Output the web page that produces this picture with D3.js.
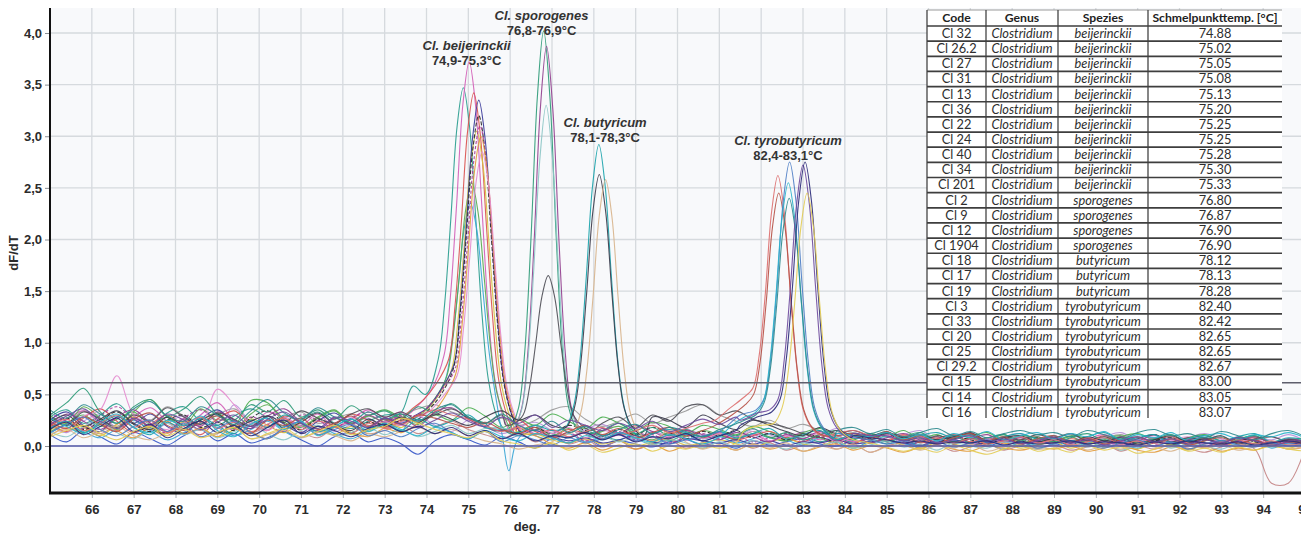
<!DOCTYPE html>
<html><head><meta charset="utf-8">
<script src="https://cdn.jsdelivr.net/npm/d3@7"></script>
<style>body{margin:0;background:#fff}svg{display:block}</style>
</head><body><svg id="chart" width="1301" height="534"></svg>
<script>
// ---------- DATA ----------
const xTicks = [66,67,68,69,70,71,72,73,74,75,76,77,78,79,80,81,82,83,84,85,86,87,88,89,90,91,92,93,94,95];
const yTicks = [0,0.5,1,1.5,2,2.5,3,3.5,4];
const thresholdValue = 0.613;

// table
const tableHeader = ["Code","Genus","Spezies","Schmelpunkttemp. [°C]"];
const tableCodes = ["Cl 32","Cl 26.2","Cl 27","Cl 31","Cl 13","Cl 36","Cl 22","Cl 24","Cl 40","Cl 34","Cl 201","Cl 2","Cl 9","Cl 12","Cl 1904","Cl 18","Cl 17","Cl 19","Cl 3","Cl 33","Cl 20","Cl 25","Cl 29.2","Cl 15","Cl 14","Cl 16"];
const tableGenus = tableCodes.map(() => "Clostridium");
const tableSpecies = ["beijerinckii","beijerinckii","beijerinckii","beijerinckii","beijerinckii","beijerinckii","beijerinckii","beijerinckii","beijerinckii","beijerinckii","beijerinckii","sporogenes","sporogenes","sporogenes","sporogenes","butyricum","butyricum","butyricum","tyrobutyricum","tyrobutyricum","tyrobutyricum","tyrobutyricum","tyrobutyricum","tyrobutyricum","tyrobutyricum","tyrobutyricum"];
const tableTemps = ["74.88","75.02","75.05","75.08","75.13","75.20","75.25","75.25","75.28","75.30","75.33","76.80","76.87","76.90","76.90","78.12","78.13","78.28","82.40","82.42","82.65","82.65","82.67","83.00","83.05","83.07"];

// annotations
const annNames = ["Cl. beijerinckii","Cl. sporogenes","Cl. butyricum","Cl. tyrobutyricum"];
const annRanges = ["74,9-75,3°C","76,8-76,9°C","78,1-78,3°C","82,4-83,1°C"];
const annTemp = [74.96, 76.75, 78.27, 82.64];
const annValue = [3.84, 4.13, 3.09, 2.92];

// curves: baseline values on a 0.4 °C grid from 65.0 to 95.0 (76 values), peak points as [temp, dF/dT]
const curveCodes = ["Cl 32","Cl 26.2","Cl 27","Cl 31","Cl 13","Cl 36","Cl 22","Cl 24","Cl 40","Cl 34","Cl 201","Cl 2","Cl 9","Cl 12","Cl 1904","Cl 18","Cl 17","Cl 19","Cl 3","Cl 33","Cl 20","Cl 25","Cl 29.2","Cl 15","Cl 14","Cl 16","NTC 1","NTC 2","NTC 3","NTC 4","NTC 5"];
const curveColors = ["#2a9d8f","#d35fb7","#3aa6d6","#5aaa50","#d9534f","#d8c040","#3b3b9a","#2b2b2b","#a83a98","#e39b3a","#e58ccf","#2f9b78","#93408f","#8cc6c6","#505058","#1aa3ab","#3c3c4c","#d8b48c","#dc7070","#b65248","#4f7fc6","#2bb3cb","#2e8a8e","#6f4c9e","#2c2c7a","#e3cc55","#9a9a9a","#3556c8","#b792d8","#c48484","#4caf50"];
const curveDash = ["","","","","","","","4,2","3,2","","","","","","","","","","","","","","","","","","","","","",""];

const baselines = [
[.28,.35,.22,.30,.41,.26,.18,.32,.38,.24,.20,.29,.36,.27,.19,.25,.33,.22,.17,.24, .30,.22,.35,.50,.60,.40,.30,.15,.10,.16,.12,.08,.14,.10,.06,.12,.09,.05,.11,.07, .10,.06,.12,.08,.05,.09,.04,.08,.03,.07,.02,.06,.01,.05,.03,.08,.02,.06,.00,.04, .07,.02,.05,-.01,.04,.08,.03,.06,.01,.05,.09,.03,.06,.00,.04,.02],
[.18,.26,.34,.22,.15,.28,.37,.24,.16,.30,.42,.25,.19,.33,.27,.20,.31,.18,.26,.35, .28,.33,.40,.45,.40,.35,.30,.25,.2,.12,.15,.09,.13,.07,.11,.14,.08,.12,.06,.10, .13,.07,.11,.05,.09,.12,.06,.10,.04,.08,.11,.05,.09,.02,.07,.10,.04,.08,.03,.06, .09,.04,.07,.11,.05,.03,.08,.06,.02,.07,.04,.09,.05,.01,.06,.03],
[.12,.20,.14,.08,.17,.25,.15,.06,.13,.22,.18,.10,.16,.24,.14,.08,.19,.12,.07,.15, .21,.14,.25,.30,.28,.22,.18,.12,.05,.10,.06,.12,.04,.09,.13,.07,.02,.08,.11,.05, .09,.03,.07,.12,.06,.01,.08,.04,-.02,.05,.09,.03,-.01,.06,.02,.07,.03,-.03,.04,.01, .05,.00,.03,.07,.02,-.02,.04,.08,.01,-.01,.05,.02,.06,-.02,.03,.01],
[.30,.21,.38,.27,.16,.33,.45,.28,.20,.36,.24,.17,.31,.40,.26,.19,.28,.35,.22,.29, .24,.31,.35,.40,.35,.30,.25,.20,.14,.20,.10,.17,.08,.14,.19,.11,.06,.13,.09,.15, .11,.07,.14,.09,.05,.12,.08,.03,.10,.06,.13,.07,.04,.09,.02,.08,.05,.11,.03,.07, .04,.09,.02,.06,.10,.03,.07,.01,.05,.08,.02,.06,.09,.03,.05,.02],
[.22,.14,.27,.36,.24,.13,.21,.30,.19,.11,.26,.34,.21,.15,.29,.23,.14,.20,.31,.25, .18,.26,.38,.40,.35,.30,.25,.20,.25,.14,.09,.16,.12,.07,.13,.10,.05,.11,.15,.08, .12,.06,.10,.14,.08,.04,.11,.07,.02,.09,.05,.10,.03,.07,.11,.04,.08,.02,.06,.09, .03,.07,.05,.10,.04,.01,.06,.09,.03,.07,.02,.05,.08,.04,.06,.03],
[.15,.23,.18,.10,.21,.28,.17,.12,.24,.19,.09,.16,.26,.20,.13,.22,.17,.11,.19,.14, .24,.18,.28,.32,.30,.25,.20,.15,.12,.12,.06,.03,.07,.02,.05,.00,.04,.07,.01,.03, .06,.02,-.01,.04,.07,.02,.00,.05,-.02,.03,.06,.01,-.03,.04,.02,-.01,.05,.03,-.02,.01, .04,-.02,.02,.05,.00,-.03,.03,.01,-.04,.02,.04,-.01,.03,.00,-.02,.02],
[.25,.33,.20,.14,.28,.22,.31,.19,.12,.26,.35,.23,.17,.29,.21,.13,.24,.32,.20,.16, .27,.22,.30,.35,.30,.25,.20,.18,.14,.15,.09,.05,.08,.03,.06,.10,.04,.02,.07,.05, .03,.06,.02,.05,.01,.04,.03,.06,.02,.04,.05,.03,.01,.04,.06,.02,.03,.05,.02,.04, .03,.05,.02,.04,.01,.03,.06,.02,.04,.03,.01,.05,.02,.04,.03,.02],
[.19,.27,.16,.24,.33,.21,.14,.25,.30,.18,.23,.15,.27,.34,.22,.16,.26,.19,.13,.23, .19,.25,.32,.35,.30,.25,.22,.18,.16,.18,.12,.20,.15,.09,.16,.11,.18,.13,.07,.14, .10,.15,.08,.12,.06,.11,.09,.04,.10,.07,.12,.05,.08,.03,.09,.06,.02,.07,.04,.08, .05,.02,.07,.03,.06,.01,.05,.08,.02,.06,.03,.07,.04,.01,.05,.03],
[.32,.24,.17,.29,.38,.26,.19,.13,.27,.35,.23,.16,.28,.21,.14,.30,.25,.18,.27,.33, .25,.30,.36,.38,.32,.28,.24,.20,.15,.16,.08,.13,.05,.10,.14,.06,.11,.03,.09,.12, .07,.10,.04,.08,.12,.05,.09,.02,.07,.11,.04,.08,.01,.06,.10,.03,.07,.05,.02,.06, .09,.03,.06,.01,.05,.08,.02,.04,.07,.00,.05,.03,.06,.02,.04,.07],
[.10,.18,.13,.21,.15,.08,.19,.24,.12,.17,.09,.20,.14,.07,.16,.22,.11,.18,.13,.09, .17,.13,.22,.28,.25,.20,.15,.12,.10,.10,.02,-.02,.03,-.04,.01,-.03,.02,-.05,.00,-.02, .01,-.04,.02,-.03,.00,-.05,-.01,.02,-.04,.00,-.02,-.06,-.01,.01,-.03,-.05,.00,-.02,-.04,-.01, -.03,.00,-.05,-.02,.01,-.04,-.06,-.01,-.03,.00,-.05,-.02,-.04,.01,-.03,-.01],
[.24,.17,.29,.35,.68,.30,.22,.16,.27,.20,.55,.40,.21,.15,.26,.19,.13,.22,.28,.18, .24,.20,.30,.34,.30,.26,.22,.18,.15,.2,.12,.18,.08,.15,.11,.05,.13,.09,.16,.07, .12,.08,.14,.05,.10,.07,.13,.04,.09,.06,.11,.03,.08,.05,.10,.02,.07,.04,.09,.03, .06,.02,.08,.04,.01,.07,.03,.05,.09,.02,.06,.03,.07,.01,.05,.04],
[.30,.42,.56,.33,.22,.38,.45,.29,.36,.48,.31,.25,.40,.33,.44,.28,.35,.26,.39,.30, .34,.27,.38,.32,.41,.28,.22,.35,.25,.20,.18,.20,.2,.15,.22,.12,.18,.10,.16,.09, .14,.10,.17,.08,.13,.06,.11,.15,.07,.12,.04,.09,.13,.06,.10,.03,.08,.11,.05,.09, .04,.08,.12,.05,.09,.02,.07,.11,.04,.08,.01,.06,.10,.03,.07,.05],
[.20,.31,.24,.16,.28,.35,.22,.14,.26,.19,.33,.25,.17,.29,.36,.23,.15,.27,.21,.30, .23,.28,.19,.33,.37,.26,.18,.25,.20,.18,.15,.16,.14,.17,.12,.20,.14,.08,.15,.11, .06,.13,.09,.04,.11,.07,.14,.05,.10,.03,.08,.12,.06,.09,.02,.07,.11,.04,.08,.05, .10,.04,.07,.02,.09,.05,.11,.03,.06,.08,.01,.05,.09,.03,.07,.04],
[.14,.09,.19,.25,.13,.07,.17,.22,.11,.16,.08,.14,.21,.12,.06,.15,.20,.10,.13,.18, .11,.16,.09,.14,.20,.12,.17,.10,.12,.10,.08,.09,.07,.10,.04,.08,.01,.06,.03,-.02, .04,-.01,.05,.02,-.03,.03,.00,.04,-.02,.01,.05,-.01,.02,-.04,.03,.00,-.02,.04,.01,-.03, .02,.05,-.01,.03,-.04,.01,.04,-.02,.02,.00,-.03,.03,.01,-.01,.02,.00],
[.27,.20,.33,.26,.18,.30,.24,.37,.28,.21,.32,.26,.19,.29,.23,.34,.27,.22,.31,.36, .28,.33,.25,.30,.36,.27,.22,.3,.25,.22,.20,.24,.22,.22,.28,.18,.30,.24,.38,.40, .30,.34,.26,.22,.18,.12,.08,.15,.10,.06,.12,.09,.04,.10,.07,.13,.05,.09,.06,.11, .08,.12,.05,.09,.03,.07,.11,.04,.08,.06,.10,.02,.07,.09,.04,.06],
[.17,.24,.13,.21,.29,.18,.11,.23,.16,.27,.20,.12,.25,.18,.30,.22,.14,.19,.26,.17, .22,.15,.26,.19,.24,.30,.18,.16,.13,.20,.14,.10,.12,.15,.10,.08,.12,.16,.13,.09, .14,.08,.12,.17,.07,.11,.15,.06,.12,.09,.14,.05,.10,.13,.08,.11,.04,.09,.12,.07, .10,.05,.09,.13,.06,.08,.11,.03,.07,.10,.05,.09,.12,.04,.08,.06],
[.23,.30,.19,.26,.34,.22,.16,.28,.20,.25,.31,.18,.24,.29,.17,.23,.32,.21,.15,.26, .20,.28,.23,.31,.26,.20,.28,.34,.25,.30,.22,.18,.20,.15,.12,.18,.28,.25,.18,.30, .22,.16,.25,.20,.14,.10,.18,.12,.15,.10,.13,.08,.11,.06,.09,.12,.05,.08,.10,.04, .07,.03,.09,.05,.08,.02,.06,.10,.04,.07,.03,.08,.05,.02,.06,.04],
[.11,.16,.08,.14,.19,.10,.06,.13,.17,.09,.12,.18,.07,.11,.15,.08,.13,.10,.05,.12, .09,.14,.18,.12,.16,.10,.05,.02,-.03,.01,.04,.10,.08,.06,.05,.09,.06,.15,.04,-.03, .01,-.04,.02,-.02,.03,-.05,.00,-.03,.02,-.06,-.01,.01,-.04,.00,-.02,.02,-.05,-.01,.01,-.03, -.02,.01,-.04,.00,-.03,.02,-.01,-.05,.00,-.02,.01,-.04,-.01,.02,-.03,.00],
[.19,.26,.15,.22,.30,.18,.25,.13,.20,.28,.17,.23,.14,.21,.27,.16,.24,.19,.12,.22, .17,.24,.29,.35,.30,.26,.20,.14,.18,.11,.16,.09,.14,.18,.11,.15,.20,.13,.17,.22, .25,.33,.42,.50,.50,.40,.30,.12,.15,.10,.06,.11,.04,.08,.03,.07,.02,.05,.09,.03, .06,.01,.04,.08,.02,.05,.00,.07,.03,-.01,.04,.06,.02,.05,.01,.03],
[.24,.17,.28,.21,.14,.26,.32,.20,.15,.23,.29,.18,.12,.25,.20,.27,.16,.22,.29,.19, .26,.21,.30,.27,.22,.18,.23,.16,.12,.18,.08,.14,.20,.11,.17,.08,.13,.18,.10,.15, .20,.28,.40,.50,.50,.40,.30,.10,.12,.08,.14,.06,.10,.03,.08,.12,.05,.09,.02,.07, .10,.04,.08,.02,.06,.09,.03,.07,.01,.05,.08,.03,.06,.00,.04,.02],
[.13,.21,.28,.16,.10,.19,.25,.14,.22,.09,.17,.24,.13,.07,.18,.23,.11,.16,.21,.10, .15,.09,.17,.22,.13,.07,.14,.04,.10,.06,.01,.08,.03,.07,.11,.05,.09,.02,.06,.10, .14,.20,.28,.35,.30,.25,.20,.12,.08,.06,.02,.05,.00,.04,-.01,.03,.06,.01,.04,-.02, .02,.05,.01,-.02,.03,.06,.00,.04,-.03,.02,.05,.01,-.01,.03,.00,.02],
[.27,.19,.12,.23,.31,.18,.13,.25,.20,.29,.15,.09,.21,.27,.16,.24,.10,.19,.26,.14, .21,.16,.10,.18,.13,.07,.15,.09,.05,.12,.08,.03,.10,.06,.13,.08,.04,.11,.07,.02, .09,.15,.22,.30,.30,.25,.20,.12,.10,.09,.13,.07,.11,.05,.12,.08,.14,.06,.10,.13, .07,.12,.09,.14,.06,.11,.08,.13,.05,.10,.12,.07,.11,.09,.13,.08],
[.35,.27,.40,.31,.22,.36,.43,.29,.24,.38,.30,.21,.34,.45,.32,.26,.37,.28,.23,.33, .26,.31,.24,.35,.40,.28,.22,.31,.20,.15,.24,.13,.19,.10,.16,.21,.12,.18,.14,.09, .16,.20,.25,.30,.30,.25,.20,.14,.18,.12,.16,.09,.13,.17,.10,.14,.08,.12,.15,.11, .13,.09,.15,.11,.07,.13,.16,.10,.12,.08,.14,.10,.06,.12,.15,.09],
[.21,.29,.36,.24,.17,.27,.20,.31,.25,.16,.23,.30,.19,.26,.33,.22,.17,.28,.24,.18, .27,.21,.18,.25,.32,.24,.19,.28,.22,.30,.18,.25,.20,.15,.22,.17,.24,.14,.20,.26, .21,.28,.24,.32,.35,.30,.25,.20,.12,.10,.10,.05,.08,.03,.06,.10,.04,.07,.02,.05, .08,.03,.06,.01,.05,.09,.04,.07,.02,.06,.03,.08,.05,.01,.04,.06],
[.16,.23,.11,.19,.27,.14,.21,.08,.17,.24,.13,.20,.10,.18,.25,.12,.19,.15,.09,.17, .21,.14,.19,.12,.18,.10,.15,.07,.12,.05,.10,.08,.13,.06,.11,.04,.09,.07,.12,.05, .10,.15,.22,.28,.33,.30,.25,.20,.10,.08,.06,.03,.05,.02,.04,.03,.05,.01,.04,.02, .03,.05,.02,.04,.03,.01,.04,.02,.05,.03,.02,.04,.01,.03,.05,.02],
[.09,.15,.20,.12,.06,.14,.19,.10,.16,.08,.13,.18,.07,.12,.17,.09,.14,.20,.11,.16, .19,.27,.22,.16,.12,.08,.14,.05,.02,-.02,.03,-.04,.01,-.06,-.02,.02,-.05,.00,-.03,.01, -.02,.03,.06,.12,.20,.20,.15,.10,.05,.03,-.01,-.05,-.02,-.06,.00,-.04,-.08,-.03,.01,-.05, -.02,-.06,.00,-.04,-.01,-.07,-.03,.01,-.05,-.02,-.06,-.01,-.04,.00,-.03,-.05],
[.29,.22,.34,.27,.19,.31,.25,.38,.29,.21,.30,.36,.24,.18,.27,.33,.22,.26,.31,.20, .24,.30,.36,.40,.33,.28,.22,.27,.20,.25,.35,.38,.26,.19,.24,.31,.22,.28,.34,.40, .30,.24,.19,.25,.17,.21,.15,.10,.13,.08,.11,.06,.09,.04,.07,.10,.03,.06,.08,.02, .05,.09,.03,.07,.11,.04,.08,.02,.06,.10,.03,.07,.05,.09,.04,.06],
[.11,.04,.15,.09,.02,.13,.07,.01,.10,.16,.05,.12,.03,.08,.14,.06,.00,.09,.13,.04, .08,.02,-.08,.05,.11,.06,.01,.09,.04,-.02,.07,.03,.08,.00,.05,.02,-.01,.04,.06,.01, .03,-.02,.05,.01,.04,.07,.02,.00,.05,.03,.06,.01,.04,.02,.05,.03,.00,.04,.02,.05, .01,.04,.02,.05,.00,.03,.06,.01,.04,.02,.05,.03,.00,.04,.02,.03],
[.20,.13,.24,.31,.18,.26,.15,.22,.29,.17,.12,.40,.23,.16,.28,.19,.25,.14,.21,.27, .17,.23,.29,.20,.14,.25,.19,.12,.18,.23,.15,.09,.16,.21,.12,.07,.14,.10,.17,.08, .13,.09,.16,.11,.06,.14,.10,.17,.08,.12,.05,.11,.15,.07,.10,.13,.06,.09,.12,.04, .08,.11,.05,.09,.13,.06,.10,.04,.08,.12,.07,.03,.09,.06,.11,.05],
[.16,.24,.19,.12,.21,.28,.17,.10,.23,.15,.26,.20,.13,.19,.25,.14,.08,.18,.22,.12, .15,.20,.12,.18,.24,.16,.11,.07,.13,.04,.09,.02,.06,-.01,.05,-.03,.02,.06,-.02,.03, .00,.05,-.02,.03,-.04,.01,.04,-.03,.02,-.06,.00,.03,-.02,.01,-.05,-.01,.02,-.04,.00,-.03, .01,-.04,-.01,.02,-.05,.00,-.03,.01,-.02,-.06,-.01,.02,-.03,-.36,-.36,-.02],
[.14,.22,.30,.19,.26,.33,.21,.28,.17,.25,.32,.20,.44,.42,.23,.18,.27,.34,.22,.29, .35,.27,.21,.30,.25,.37,.29,.18,.26,.20,.31,.24,.17,.28,.22,.15,.23,.19,.12,.20, .16,.11,.19,.14,.08,.13,.17,.10,.06,.12,.09,.15,.07,.11,.04,.09,.13,.06,.10,.08, .05,.10,.07,.03,.09,.12,.06,.04,.08,.11,.05,.07,.10,.03,.06,.08]
];

const peakPoints = [
[[73.38,.32],[73.68,.58],[73.98,.5],[74.28,.84],[74.43,1.36],[74.58,2.19],[74.73,3.09],[74.88,3.47],[75.03,3.09],[75.18,2.19],[75.33,1.26],[75.48,.64],[75.68,.29],[75.88,.15]],
[[73.52,.3],[73.82,.4],[74.12,.55],[74.42,.88],[74.57,1.44],[74.72,2.34],[74.87,3.31],[75.02,3.72],[75.17,3.31],[75.32,2.34],[75.47,1.34],[75.62,.68],[75.82,.3],[76.02,.14]],
[[73.55,.22],[73.85,.3],[74.15,.42],[74.45,.64],[74.6,.98],[74.75,1.5],[74.9,2.1],[75.05,2.35],[75.2,2.1],[75.35,1.5],[75.5,.9],[75.65,.49],[75.82,.08],[75.97,-.24],[76.15,.04],[76.4,.14]],
[[73.58,.25],[73.88,.32],[74.18,.45],[74.48,.67],[74.63,1.04],[74.78,1.63],[74.93,2.27],[75.08,2.55],[75.23,2.27],[75.38,1.63],[75.53,.96],[75.68,.52],[75.88,.27],[76.08,.12]],
[[73.63,.35],[73.93,.45],[74.23,.6],[74.53,.84],[74.68,1.35],[74.83,2.15],[74.98,3.04],[75.13,3.42],[75.28,3.04],[75.43,2.15],[75.58,1.25],[75.73,.63],[75.93,.29],[76.13,.12]],
[[73.7,.28],[74.0,.35],[74.3,.5],[74.6,.74],[74.75,1.21],[74.9,1.93],[75.05,2.72],[75.2,3.05],[75.35,2.72],[75.5,1.93],[75.65,1.13],[75.8,.58],[76.0,.28],[76.2,.12]],
[[73.75,.3],[74.05,.38],[74.35,.55],[74.65,.78],[74.8,1.3],[74.95,2.11],[75.1,2.98],[75.25,3.35],[75.4,2.98],[75.55,2.11],[75.7,1.22],[75.85,.63],[76.05,.29],[76.25,.14]],
[[73.75,.25],[74.05,.35],[74.35,.5],[74.65,.76],[74.8,1.26],[74.95,2.02],[75.1,2.85],[75.25,3.2],[75.4,2.85],[75.55,2.02],[75.7,1.18],[75.85,.61],[76.05,.29],[76.25,.14]],
[[73.78,.3],[74.08,.4],[74.38,.55],[74.68,.74],[74.83,1.22],[74.98,1.96],[75.13,2.76],[75.28,3.1],[75.43,2.76],[75.58,1.96],[75.73,1.14],[75.88,.59],[76.08,.28],[76.28,.13]],
[[73.8,.22],[74.1,.3],[74.4,.45],[74.7,.7],[74.85,1.17],[75.0,1.9],[75.15,2.67],[75.3,3.0],[75.45,2.67],[75.6,1.9],[75.75,1.11],[75.9,.58],[76.1,.28],[76.3,.13]],
[[73.83,.28],[74.13,.36],[74.43,.5],[74.73,.68],[74.88,1.12],[75.03,1.81],[75.18,2.54],[75.33,2.85],[75.48,2.54],[75.63,1.81],[75.78,1.06],[75.93,.56],[76.13,.28],[76.33,.13]],
[[75.6,.15],[76.0,.18],[76.2,.37],[76.35,.92],[76.5,2.03],[76.65,3.38],[76.8,4.02],[76.95,3.38],[77.1,2.03],[77.25,.92],[77.4,.37],[77.6,.17],[77.9,.12]],
[[75.7,.15],[76.07,.17],[76.27,.36],[76.42,.89],[76.57,1.96],[76.72,3.26],[76.87,3.87],[77.02,3.26],[77.17,1.96],[77.32,.89],[77.47,.36],[77.67,.17],[77.95,.1]],
[[75.7,.18],[76.06,.17],[76.26,.33],[76.41,.77],[76.56,1.68],[76.71,2.78],[76.86,3.3],[77.01,2.78],[77.16,1.68],[77.31,.77],[77.46,.33],[77.66,.17],[77.95,.1]],
[[75.9,.2],[76.1,.22],[76.31,.3],[76.46,.56],[76.61,.99],[76.76,1.45],[76.91,1.65],[77.06,1.45],[77.21,.99],[77.36,.56],[77.51,.3],[77.71,.2],[77.95,.15]],
[[77.0,.15],[77.32,.18],[77.52,.39],[77.67,.84],[77.82,1.64],[77.97,2.52],[78.12,2.92],[78.27,2.52],[78.42,1.64],[78.57,.84],[78.72,.39],[78.92,.15],[79.2,.08]],
[[77.0,.2],[77.33,.18],[77.53,.36],[77.68,.77],[77.83,1.49],[77.98,2.28],[78.13,2.63],[78.28,2.28],[78.43,1.49],[78.58,.77],[78.73,.36],[78.93,.18],[79.2,.1]],
[[77.2,.1],[77.48,.13],[77.68,.31],[77.83,.72],[77.98,1.44],[78.13,2.23],[78.28,2.58],[78.43,2.23],[78.58,1.44],[78.73,.72],[78.88,.31],[79.08,.13],[79.4,.05]],
[[80.9,.25],[81.2,.35],[81.55,.46],[81.8,.56],[81.95,.87],[82.1,1.48],[82.25,2.27],[82.4,2.62],[82.55,2.27],[82.7,1.48],[82.85,.77],[83.0,.36],[83.2,.18],[83.45,.1]],
[[80.9,.2],[81.3,.3],[81.62,.4],[81.82,.5],[81.97,.8],[82.12,1.39],[82.27,2.12],[82.42,2.45],[82.57,2.12],[82.72,1.39],[82.87,.72],[83.02,.35],[83.22,.18],[83.5,.1]],
[[81.2,.2],[81.5,.3],[81.88,.35],[82.08,.47],[82.23,.85],[82.38,1.55],[82.53,2.38],[82.68,2.75],[82.83,2.38],[82.98,1.55],[83.13,.8],[83.28,.37],[83.48,.18],[83.75,.08]],
[[81.3,.2],[81.6,.28],[81.85,.32],[82.05,.43],[82.2,.79],[82.35,1.44],[82.5,2.21],[82.65,2.55],[82.8,2.21],[82.95,1.44],[83.1,.75],[83.25,.35],[83.45,.17],[83.75,.08]],
[[81.3,.2],[81.6,.25],[81.87,.3],[82.07,.42],[82.22,.75],[82.37,1.36],[82.52,2.08],[82.67,2.4],[82.82,2.08],[82.97,1.36],[83.12,.71],[83.27,.34],[83.47,.17],[83.75,.08]],
[[81.5,.25],[81.9,.32],[82.2,.35],[82.4,.45],[82.55,.83],[82.7,1.54],[82.85,2.35],[83.0,2.72],[83.15,2.35],[83.3,1.54],[83.45,.79],[83.6,.37],[83.8,.18],[84.1,.08]],
[[81.5,.2],[81.9,.28],[82.25,.33],[82.45,.45],[82.6,.84],[82.75,1.55],[82.9,2.38],[83.05,2.75],[83.2,2.38],[83.35,1.55],[83.5,.8],[83.65,.37],[83.85,.18],[84.15,.08]],
[[81.6,.15],[82.0,.2],[82.3,.22],[82.5,.37],[82.65,.73],[82.8,1.38],[82.95,2.12],[83.1,2.45],[83.25,2.12],[83.4,1.38],[83.55,.7],[83.7,.32],[83.9,.15],[84.2,.06]],
[],[],[],[],[]
];

// ---------- CHART ----------
const W = 1301, H = 534;
const plot = {left: 50, right: 1305, top: 8, bottom: 493};
const x = d3.scaleLinear().domain([65, 95]).range([plot.left, plot.right]);
const y = d3.scaleLinear().domain([-0.455, 4.242]).range([plot.bottom, plot.top]);
const grid = d3.range(76).map(k => +(65 + 0.4 * k).toFixed(1));

const svg = d3.select("#chart");
svg.append("rect").attr("width", W).attr("height", H).attr("fill", "#fff");
svg.append("rect").attr("x", plot.left).attr("y", plot.top)
  .attr("width", W - plot.left).attr("height", plot.bottom - plot.top).attr("fill", "#f8f9fb");

svg.append("defs").append("clipPath").attr("id", "clip").append("rect")
  .attr("x", plot.left).attr("y", plot.top).attr("width", plot.right - plot.left).attr("height", plot.bottom - plot.top);

// grid
const gGrid = svg.append("g");
gGrid.selectAll("line.v").data(xTicks).join("line")
  .attr("x1", d => x(d)).attr("x2", d => x(d)).attr("y1", plot.top).attr("y2", plot.bottom)
  .attr("stroke", "#d6dade").attr("stroke-width", 1.3);
gGrid.selectAll("line.h").data(yTicks).join("line")
  .attr("x1", plot.left).attr("x2", W).attr("y1", d => y(d)).attr("y2", d => y(d))
  .attr("stroke", "#d6dade").attr("stroke-width", 1.3);

// curves
const line = d3.line().x(d => x(d[0])).y(d => y(d[1])).curve(d3.curveCatmullRom.alpha(0.5));
function curvePoints(i) {
  const pk = peakPoints[i];
  let pts = grid.map((t, k) => [t, baselines[i][k]]);
  if (pk.length) {
    const lo = pk[0][0], hi = pk[pk.length - 1][0];
    pts = pts.filter(p => p[0] < lo || p[0] > hi).concat(pk);
    pts.sort((a, b) => a[0] - b[0]);
  }
  return pts;
}
const order = d3.range(curveCodes.length).sort((a, b) => (peakPoints[a].length ? 1 : 0) - (peakPoints[b].length ? 1 : 0));
const gCurves = svg.append("g").attr("clip-path", "url(#clip)");
order.forEach(i => {
  gCurves.append("path").datum(curvePoints(i))
    .attr("d", line).attr("fill", "none")
    .attr("stroke", curveColors[i]).attr("stroke-width", 1.1)
    .attr("stroke-dasharray", curveDash[i] || null)
    .attr("stroke-opacity", 0.92);
});

// reference lines
svg.append("line").attr("x1", plot.left).attr("x2", W).attr("y1", y(0)).attr("y2", y(0))
  .attr("stroke", "#5458a8").attr("stroke-width", 1.6);
svg.append("line").attr("x1", plot.left).attr("x2", W).attr("y1", y(thresholdValue)).attr("y2", y(thresholdValue))
  .attr("stroke", "#5e5f6c").attr("stroke-width", 1.6);

// axes
const fontAxis = "'Liberation Sans', Arial, sans-serif";
const xAxis = d3.axisBottom(x).tickValues(xTicks).tickFormat(d => d).tickSize(5).tickPadding(7);
const gx = svg.append("g").attr("transform", `translate(0,${plot.bottom})`).call(xAxis);
gx.select(".domain").remove();
gx.selectAll(".tick line").attr("stroke", "#a8acb2");
gx.selectAll(".tick text").attr("font-family", fontAxis).attr("font-size", 13)
  .attr("font-weight", "bold").attr("fill", "#2b2b2b");

const yAxis = d3.axisLeft(y).tickValues(yTicks).tickFormat(d => d.toFixed(1).replace(".", ",")).tickSize(5).tickPadding(3);
const gy = svg.append("g").attr("transform", `translate(${plot.left},0)`).call(yAxis);
gy.select(".domain").remove();
gy.selectAll(".tick line").attr("stroke", "#8a8e94");
gy.selectAll(".tick text").attr("font-family", fontAxis).attr("font-size", 13)
  .attr("font-weight", "bold").attr("fill", "#2b2b2b");

svg.append("line").attr("x1", plot.left).attr("x2", plot.left).attr("y1", plot.top).attr("y2", plot.bottom + 1)
  .attr("stroke", "#111").attr("stroke-width", 2);
svg.append("line").attr("x1", plot.left - 1).attr("x2", W).attr("y1", plot.bottom).attr("y2", plot.bottom)
  .attr("stroke", "#111").attr("stroke-width", 3);

svg.append("text").attr("x", 527).attr("y", 531).attr("text-anchor", "middle")
  .attr("font-family", fontAxis).attr("font-size", 13).attr("font-weight", "bold").attr("fill", "#2b2b2b").text("deg.");
svg.append("text").attr("transform", "translate(18,253) rotate(-90)").attr("text-anchor", "middle")
  .attr("font-family", fontAxis).attr("font-size", 13).attr("font-weight", "bold").attr("fill", "#2b2b2b").text("dF/dT");

// annotations
annNames.forEach((n, i) => {
  const t = svg.append("text").attr("x", x(annTemp[i])).attr("y", y(annValue[i]))
    .attr("text-anchor", "middle").attr("font-family", fontAxis).attr("font-size", 13)
    .attr("font-weight", "bold").attr("fill", "#333");
  t.append("tspan").attr("font-style", "italic").text(n);
  t.append("tspan").attr("x", x(annTemp[i])).attr("dy", 15.3).text(annRanges[i]);
});

// table
const colEdges = [927, 986, 1058, 1148, 1282];
const tTop = 10, headBottom = 26, rowH = 15.15;
const tBottom = headBottom + rowH * tableCodes.length;
const fontTable = "Lato, 'Open Sans', sans-serif";
const gT = svg.append("g");
gT.append("rect").attr("x", colEdges[0]).attr("y", tTop).attr("width", colEdges[4] - colEdges[0])
  .attr("height", tBottom - tTop).attr("fill", "#fff");
gT.append("line").attr("x1", colEdges[0]).attr("x2", colEdges[4]).attr("y1", tTop).attr("y2", tTop)
  .attr("stroke", "#9a9a9a").attr("stroke-width", 1);
colEdges.slice(0, 4).forEach(cx => {
  gT.append("line").attr("x1", cx).attr("x2", cx).attr("y1", tTop).attr("y2", tBottom - 2)
    .attr("stroke", "#444").attr("stroke-width", 1.3);
});
d3.range(tableCodes.length).forEach(r => {
  const ly = headBottom + rowH * r;
  gT.append("line").attr("x1", colEdges[0]).attr("x2", colEdges[4]).attr("y1", ly).attr("y2", ly)
    .attr("stroke", "#3e3e3e").attr("stroke-width", 1.7);
});
const colCenters = d3.range(4).map(c => (colEdges[c] + colEdges[c + 1]) / 2);
tableHeader.forEach((h, c) => {
  gT.append("text").attr("x", colCenters[c]).attr("y", 22).attr("text-anchor", "middle")
    .attr("font-family", fontTable).attr("font-size", 12.2).attr("font-weight", "bold").attr("fill", "#222").text(h);
});
const cols = [tableCodes, tableGenus, tableSpecies, tableTemps];
cols.forEach((arr, c) => {
  arr.forEach((v, r) => {
    gT.append("text").attr("x", colCenters[c]).attr("y", headBottom + rowH * (r + 0.5) + 4.4)
      .attr("text-anchor", "middle").attr("font-family", fontTable).attr("font-size", 12.8)
      .attr("font-style", (c === 1 || c === 2) ? "italic" : "normal").attr("fill", "#2e2e2e").text(v);
  });
});
</script></body></html>
